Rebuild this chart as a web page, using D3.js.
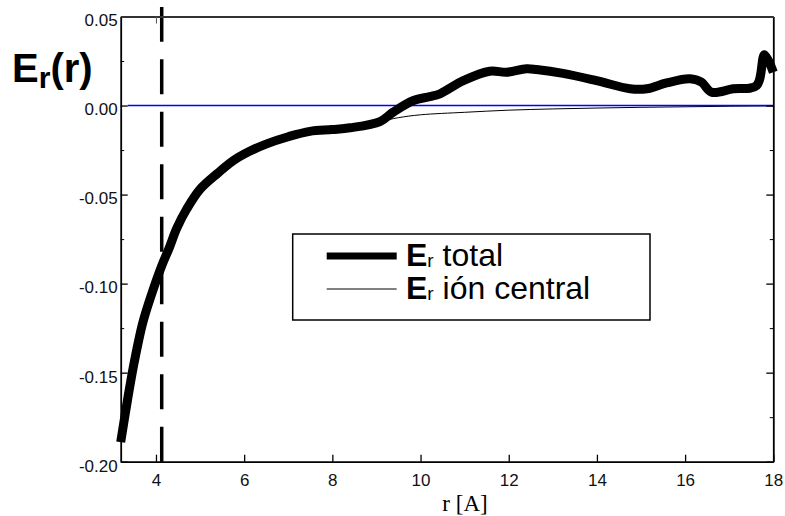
<!DOCTYPE html>
<html>
<head>
<meta charset="utf-8">
<script src="https://cdn.jsdelivr.net/npm/d3@7"></script>
<style>
  body { margin: 0; background: #fff; }
  svg { display: block; }
  .tick text { font-family: "Liberation Sans", Arial, sans-serif; font-size: 17px; fill: #111; }
</style>
</head>
<body>
<svg id="chart" width="785" height="516"></svg>
<script>
// E_r total (thick curve)
const rTotal = [3.2, 3.35, 3.5, 3.7, 3.9, 4.13, 4.3, 4.47, 4.7, 5.0, 5.4, 5.75, 6.1, 6.51, 7.0, 7.49, 8.0, 8.4, 9.08, 9.38, 9.84, 10.21, 10.44, 10.97, 11.57, 11.95, 12.4, 12.63, 13.23, 13.99, 14.75, 15.13, 15.58, 16.11, 16.37, 16.6, 17.09, 17.62, 17.8, 18.0];
const eTotal = [-0.189, -0.166, -0.145, -0.122, -0.106, -0.09, -0.08, -0.069, -0.058, -0.047, -0.038, -0.031, -0.026, -0.0215, -0.0175, -0.0145, -0.0135, -0.0125, -0.009, -0.0037, 0.0028, 0.005, 0.0066, 0.014, 0.0193, 0.0187, 0.0206, 0.0202, 0.0181, 0.014, 0.0094, 0.0094, 0.0127, 0.015, 0.0131, 0.0075, 0.0094, 0.0112, 0.0285, 0.0187];

// E_r ion central (thin curve)
const rCentral = [3.2, 3.35, 3.5, 3.7, 3.9, 4.13, 4.3, 4.47, 4.7, 5.0, 5.4, 5.75, 6.1, 6.51, 7.0, 7.49, 8.0, 8.4, 9.08, 9.5, 10, 11, 12, 13, 14, 15, 16, 17, 18];
const eCentral = [-0.189, -0.166, -0.145, -0.122, -0.106, -0.09, -0.08, -0.069, -0.058, -0.047, -0.038, -0.031, -0.026, -0.0215, -0.0175, -0.0145, -0.0135, -0.0125, -0.009, -0.0068, -0.0052, -0.0038, -0.0026, -0.0019, -0.0014, -0.001, -0.0007, -0.0004, -0.0002];

const xTicks = [4, 6, 8, 10, 12, 14, 16, 18];
const yTicks = [0.05, 0.0, -0.05, -0.1, -0.15, -0.2];
const yMinorTicks = [0.025, -0.025, -0.075, -0.125, -0.175];
const rCut = 4.13;

const svg = d3.select('#chart');
const margin = { top: 16.5, right: 11.7, bottom: 54.3, left: 120.7 };
const width = 785 - margin.left - margin.right;
const height = 516 - margin.top - margin.bottom;

const x = d3.scaleLinear().domain([3.2, 18]).range([margin.left, margin.left + width]);
const y = d3.scaleLinear().domain([-0.2, 0.05]).range([margin.top + height, margin.top]);

const fmt = d => d.toFixed(2);

// dashed vertical line
svg.append('line')
  .attr('x1', x(rCut)).attr('x2', x(rCut))
  .attr('y1', y(-0.2)).attr('y2', 7)
  .attr('stroke', '#000').attr('stroke-width', 3.5)
  .attr('stroke-dasharray', '35,17.5');

const line = d3.line().x(d => x(d[0])).y(d => y(d[1])).curve(d3.curveCatmullRom.alpha(0.5));

svg.append('path')
  .datum(d3.zip(rCentral, eCentral))
  .attr('d', line)
  .attr('fill', 'none').attr('stroke', '#000').attr('stroke-width', 1);

// zero line
svg.append('line')
  .attr('x1', x(3.2) + 7).attr('x2', x(18))
  .attr('y1', y(0)).attr('y2', y(0))
  .attr('stroke', '#0000ff').attr('stroke-width', 1.5);

svg.append('path')
  .datum(d3.zip(rTotal, eTotal))
  .attr('d', line)
  .attr('fill', 'none').attr('stroke', '#000').attr('stroke-width', 9)
  .attr('stroke-linejoin', 'round');

// axes
const styleAxis = (g, w) => {
  g.select('.domain').attr('stroke', '#000').attr('stroke-width', w);
  g.selectAll('.tick line').attr('stroke', '#000').attr('stroke-width', 1.3);
};

svg.append('g')
  .attr('transform', `translate(0,${margin.top + height})`)
  .call(d3.axisBottom(x).tickValues(xTicks).tickFormat(d3.format('d')).tickSizeInner(-7).tickSizeOuter(0).tickPadding(12))
  .call(g => styleAxis(g, 1.8));

svg.append('g')
  .attr('transform', `translate(${margin.left},0)`)
  .call(d3.axisLeft(y).tickValues(yTicks).tickFormat(fmt).tickSizeInner(-7).tickSizeOuter(0).tickPadding(3))
  .call(g => styleAxis(g, 1.8))
  .call(g => g.selectAll('.tick text').attr('dy', '0.55em'));

svg.append('g')
  .attr('transform', `translate(${margin.left},0)`)
  .call(d3.axisLeft(y).tickValues(yMinorTicks).tickFormat('').tickSizeInner(-3.5).tickSizeOuter(0))
  .call(g => g.select('.domain').remove())
  .call(g => g.selectAll('.tick line').attr('stroke', '#000'));

svg.append('g')
  .attr('transform', `translate(${margin.left + width},0)`)
  .call(d3.axisRight(y).tickValues(yTicks).tickFormat('').tickSizeInner(-7).tickSizeOuter(0))
  .call(g => styleAxis(g, 1.8));

svg.append('g')
  .attr('transform', `translate(${margin.left + width},0)`)
  .call(d3.axisRight(y).tickValues(yMinorTicks).tickFormat('').tickSizeInner(-3.5).tickSizeOuter(0))
  .call(g => g.select('.domain').remove())
  .call(g => g.selectAll('.tick line').attr('stroke', '#000'));

svg.append('g')
  .attr('transform', `translate(0,${margin.top})`)
  .call(d3.axisTop(x).tickValues([4]).tickFormat('').tickSizeInner(-7).tickSizeOuter(0))
  .call(g => g.select('.domain').attr('stroke', '#333').attr('stroke-width', 2.2))
  .call(g => g.selectAll('.tick line').attr('stroke', '#555'));

// axis label
svg.append('text')
  .attr('x', 465).attr('y', 511)
  .attr('text-anchor', 'middle')
  .style('font-family', '"Liberation Serif", "Times New Roman", serif')
  .style('font-size', '23px')
  .text('r [A]');

// y title
const title = svg.append('text')
  .attr('x', 12).attr('y', 82)
  .style('font-family', '"Liberation Sans", Arial, sans-serif')
  .style('font-weight', 'bold')
  .style('font-size', '40px');
title.append('tspan').text('E');
title.append('tspan').attr('dy', 6).style('font-size', '30px').text('r');
title.append('tspan').attr('dy', -6).text('(r)');

// legend
const legend = svg.append('g');
legend.append('rect')
  .attr('x', 292.7).attr('y', 234).attr('width', 357.3).attr('height', 86)
  .attr('fill', '#fff').attr('stroke', '#000').attr('stroke-width', 1.5);

const legendItems = [
  { label: ' total', w: 7, y: 256 },
  { label: ' ión central', w: 1, y: 289 }
];
legendItems.forEach(d => {
  legend.append('line')
    .attr('x1', 326.7).attr('x2', 396.7).attr('y1', d.y).attr('y2', d.y)
    .attr('stroke', '#000').attr('stroke-width', d.w);
  const t = legend.append('text')
    .attr('x', 406).attr('y', d.y + 10)
    .style('font-family', '"Liberation Sans", Arial, sans-serif')
    .style('font-size', '32px');
  t.append('tspan').style('font-weight', 'bold').text('E');
  t.append('tspan').attr('dy', 1).style('font-size', '19px').text('r');
  t.append('tspan').attr('dy', -1).text(d.label);
});
</script>
</body>
</html>
